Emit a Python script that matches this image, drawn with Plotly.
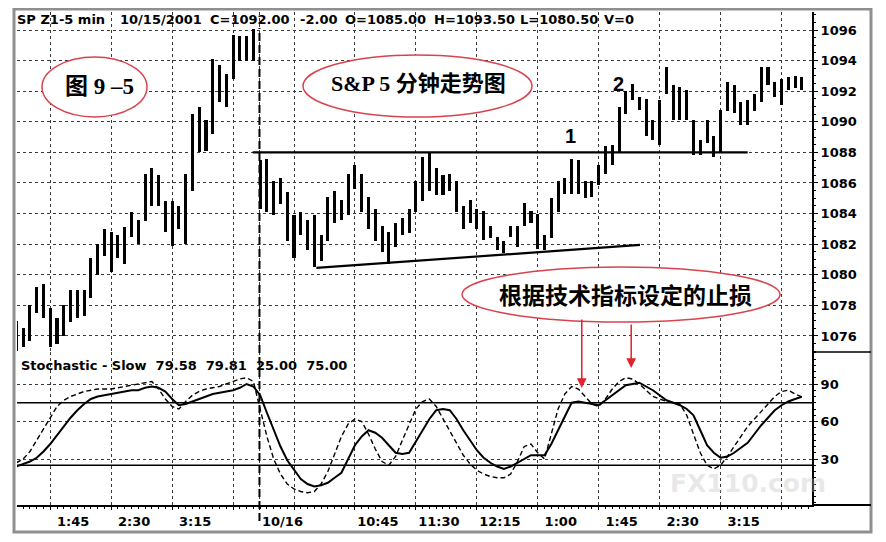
import plotly.graph_objects as go

# ---------------- data ----------------
bar_idx = list(range(117))

highs = [1077.0, 1076.5, 1078.0, 1079.2, 1079.4, 1077.8, 1077.2, 1078.0, 1079.0, 1079.0,
         1079.0, 1081.1, 1082.0, 1083.0, 1082.8, 1082.6, 1083.1, 1084.1, 1083.6, 1086.6,
         1087.0, 1086.5, 1084.8, 1084.8, 1084.5, 1086.6, 1090.5, 1091.0, 1090.1, 1094.1,
         1093.7, 1093.1, 1095.7, 1095.6, 1095.6, 1096.1,
         1087.5, 1087.6, 1086.1, 1086.3, 1085.4, 1083.9, 1084.1, 1083.6, 1083.9, 1082.6,
         1085.1, 1085.5, 1084.9, 1086.6, 1087.2, 1086.6, 1085.1, 1084.3, 1083.2, 1082.8,
         1083.4, 1083.7, 1084.3, 1086.1, 1087.7, 1088.0, 1087.0, 1086.5, 1086.6, 1086.1,
         1084.5, 1084.9, 1084.3, 1084.2, 1083.2, 1082.5, 1082.2, 1083.2, 1083.2, 1084.7,
         1084.2, 1084.0, 1082.6, 1085.0, 1086.1, 1086.3, 1087.6, 1087.5, 1086.1, 1086.1,
         1087.2, 1088.4, 1088.5, 1091.0, 1092.0, 1092.5, 1091.6, 1091.5, 1090.1, 1091.4,
         1093.6, 1092.4, 1092.3, 1092.1, 1090.1, 1088.8, 1090.1, 1089.1, 1090.8, 1092.6,
         1092.4, 1091.3, 1091.4, 1091.8, 1093.6, 1093.6, 1092.6, 1092.8, 1092.9, 1093.0,
         1092.9]

lows = [1075.0, 1075.3, 1075.7, 1077.5, 1077.2, 1075.3, 1075.5, 1076.0, 1076.9, 1077.2,
        1077.3, 1078.5, 1080.0, 1081.2, 1080.2, 1081.1, 1080.7, 1082.5, 1082.0, 1083.5,
        1084.5, 1084.5, 1082.8, 1081.9, 1083.0, 1082.0, 1085.5, 1088.0, 1088.1, 1089.2,
        1091.3, 1091.0, 1092.8, 1094.0, 1094.0, 1094.0,
        1084.3, 1084.1, 1083.9, 1084.6, 1082.2, 1081.1, 1082.6, 1081.6, 1080.5, 1080.9,
        1082.2, 1083.4, 1083.6, 1083.9, 1085.6, 1084.1, 1083.0, 1082.2, 1081.5, 1080.7,
        1081.8, 1082.6, 1082.7, 1084.1, 1084.8, 1085.5, 1085.2, 1085.2, 1085.5, 1084.1,
        1083.0, 1083.4, 1083.0, 1082.3, 1082.4, 1081.6, 1081.4, 1082.5, 1081.8, 1083.2,
        1083.4, 1081.7, 1081.6, 1082.4, 1084.1, 1085.3, 1085.3, 1085.3, 1085.0, 1085.1,
        1085.9, 1086.6, 1087.2, 1088.0, 1090.5, 1091.4, 1090.8, 1089.1, 1088.8, 1088.5,
        1091.8, 1090.1, 1090.1, 1090.1, 1087.8, 1087.8, 1088.6, 1087.7, 1088.0, 1090.7,
        1090.6, 1089.8, 1089.8, 1090.7, 1091.3, 1092.4, 1091.6, 1091.1, 1092.1, 1092.2,
        1092.1]

stoch_k = [27, 30, 36, 45, 55, 64, 72, 77, 80, 82, 84, 85, 86, 86, 86, 87, 88, 89, 90, 91,
           92, 86, 78, 72, 70, 76, 81, 84, 86, 87, 88, 90, 92, 94, 95, 92,
           70, 48, 30, 18, 10, 6, 4, 3, 4, 10, 20, 34, 48, 58, 62, 60, 50, 38, 28, 25,
           32, 45, 58, 70, 76, 78, 72, 62, 52, 42, 33, 26, 21, 18, 16, 15, 15, 18, 28, 40,
           42, 35, 30, 50, 70, 82, 88, 86, 80, 74, 72, 78, 86, 92, 95, 94, 90, 85, 80, 78,
           76, 75, 74, 65, 50, 35, 25, 22, 25, 32, 40, 48, 56, 62, 68, 74, 80, 84, 85, 82,
           79.58]

stoch_d = [24, 26, 28, 31, 36, 42, 49, 56, 63, 69, 74, 78, 80, 81, 82, 83, 84, 85, 85, 87,
           88, 87, 84, 78, 73, 74, 76, 78, 80, 82, 83, 84, 85, 87, 90, 88,
           81, 67, 53, 40, 29, 21, 14, 10, 8, 9, 11, 15, 19, 30, 41, 48, 53, 51, 47, 41,
           35, 34, 35, 44, 53, 62, 69, 70, 69, 62, 53, 45, 37, 31, 27, 24, 22, 24, 27, 30,
           33, 33, 33, 42, 53, 64, 75, 76, 75, 74, 73, 77, 81, 85, 89, 90, 91, 88, 85, 81,
           77, 75, 73, 70, 65, 53, 41, 35, 31, 32, 35, 39, 43, 50, 57, 63, 69, 73, 76, 78,
           79.81]

x_tick_vals = [5, 14, 23, 32, 35.9, 41, 50, 59, 68, 77, 86, 95, 104, 113]
x_tick_text = ["1:45", "2:30", "3:15", "", "10/16", "", "10:45", "11:30", "12:15",
               "1:00", "1:45", "2:30", "3:15", ""]
price_ticks = [1076, 1078, 1080, 1082, 1084, 1086, 1088, 1090, 1092, 1094, 1096]
stoch_ticks = [30, 60, 90]

resist_x = [34.9, 108.0]
resist_y = [1088.0, 1088.0]
support_x = [44.3, 92.1]
support_y = [1080.45, 1081.95]
stoch_levels = [25, 75]
day_sep = 35.9

header_fields = ["SP Z1-5 min", "10/15/2001", "C=1092.00", "-2.00", "O=1085.00",
                 "H=1093.50", "L=1080.50", "V=0"]
stoch_text = "Stochastic - Slow  79.58  79.81  25.00  75.00"

# ---------------- layout geometry (reference pixels; page body adds 8px offset) ----------------
OFF = 8
W, H = 886 - OFF, 542 - OFF
PL, PR, PT, PB = 17, 812, 12, 505
SPLIT = 352
split_frac = (PB - SPLIT) / (PB - PT)


def fx(px):
    return (px - PL) / (PR - PL)


def fy(py):
    return (PB - py) / (PB - PT)


BOLD = dict(family="DejaVu Sans", size=13, color="black", weight="bold")
RED = "#d9434e"

fig = go.Figure()

fig.add_trace(go.Bar(
    x=bar_idx, y=[h - l for h, l in zip(highs, lows)], base=lows,
    width=0.45, marker=dict(color="black", line=dict(width=0)),
    xaxis="x", yaxis="y", hoverinfo="skip", showlegend=False))

fig.add_trace(go.Scatter(x=resist_x, y=resist_y, mode="lines",
                         line=dict(color="black", width=2.2), yaxis="y", showlegend=False))
fig.add_trace(go.Scatter(x=support_x, y=support_y, mode="lines",
                         line=dict(color="black", width=2.2), yaxis="y", showlegend=False))

fig.add_trace(go.Scatter(x=bar_idx, y=stoch_d, mode="lines",
                         line=dict(color="black", width=2), yaxis="y2", showlegend=False))
fig.add_trace(go.Scatter(x=bar_idx, y=stoch_k, mode="lines",
                         line=dict(color="black", width=1.4, dash="5px,3px"),
                         yaxis="y2", showlegend=False))

grid = dict(showgrid=True, gridcolor="#3a3a3a", griddash="dot", gridwidth=1)

fig.update_layout(
    width=W, height=H,
    margin=dict(l=PL - OFF, r=W - (PR - OFF), t=PT - OFF, b=H - (PB - OFF)),
    paper_bgcolor="white", plot_bgcolor="white",
    bargap=0, barmode="overlay",
    xaxis=dict(range=[0.09, 117.5], domain=[0, 1], anchor="y2",
               tickvals=x_tick_vals, ticktext=x_tick_text,
               ticks="outside", ticklen=3, tickcolor="black", tickwidth=1,
               showline=True, linecolor="black", linewidth=2,
               tickfont=BOLD, ticklabelshift=23, ticklabelstandoff=0, zeroline=False,
               minor=dict(dtick=1, tick0=0, ticks="outside", ticklen=2, tickcolor="black",
                          showgrid=False),
               **grid),
    yaxis=dict(domain=[split_frac, 1], range=[1074.95, 1097.18], anchor="x", side="right",
               tickvals=price_ticks, ticks="outside", ticklen=4, tickcolor="black",
               showline=True, linecolor="black", linewidth=2, tickfont=BOLD,
               zeroline=False, ticklabelstandoff=0,
               minor=dict(dtick=0.5, ticks="outside", ticklen=2, tickcolor="black",
                          showgrid=False),
               **grid),
    yaxis2=dict(domain=[0, split_frac], range=[-6.8, 115.6], anchor="x", side="right",
                tickvals=stoch_ticks, ticks="outside", ticklen=4, tickcolor="black",
                showline=True, linecolor="black", linewidth=2, tickfont=BOLD,
                zeroline=False, ticklabelstandoff=0,
                minor=dict(dtick=5, ticks="outside", ticklen=2, tickcolor="black",
                           showgrid=False),
                **grid),
)

shapes = []
for lv in stoch_levels:
    shapes.append(dict(type="line", xref="x domain", yref="y2", x0=0, x1=1, y0=lv, y1=lv,
                       line=dict(color="black", width=1.6)))
shapes.append(dict(type="line", xref="x", yref="paper", x0=day_sep, x1=day_sep,
                   y0=fy(521), y1=fy(28), line=dict(color="black", width=2, dash="8px,4px")))
# ellipses
for (x0, x1, y0, y1) in [(42, 147, 57, 117), (303, 532, 55, 117), (462, 780, 267, 322)]:
    shapes.append(dict(type="circle", xref="paper", yref="paper",
                       x0=fx(x0), x1=fx(x1), y0=fy(y1), y1=fy(y0),
                       fillcolor="white", line=dict(color=RED, width=1.5), layer="above"))
# outer frame and right-side separators
shapes.append(dict(type="rect", xref="paper", yref="paper", x0=fx(14), x1=fx(871),
                   y0=fy(532), y1=fy(9), line=dict(color="#8f8f8f", width=3), layer="above"))
shapes.append(dict(type="line", xref="paper", yref="paper", x0=fx(812), x1=fx(871),
                   y0=fy(SPLIT), y1=fy(SPLIT), line=dict(color="black", width=1.5)))
shapes.append(dict(type="line", xref="paper", yref="paper", x0=fx(812), x1=fx(871),
                   y0=0, y1=0, line=dict(color="black", width=2)))
fig.update_layout(shapes=shapes)

ann = []
for txt, xs in zip(header_fields, [15, 118, 208, 298, 343, 432, 518, 602]):
    ann.append(dict(text=txt, xref="paper", yref="paper", x=fx(xs), y=fy(19),
                    xanchor="left", yanchor="middle", showarrow=False, font=BOLD))
ann.append(dict(text=stoch_text, xref="paper", yref="paper", x=fx(19), y=fy(365),
                xanchor="left", yanchor="middle", showarrow=False, font=BOLD))
serif_cjk = "Liberation Serif, Noto Sans CJK SC"
ann.append(dict(text="图 9 –5", xref="paper", yref="paper", x=fx(99), y=fy(86),
                xanchor="center", yanchor="middle", showarrow=False,
                font=dict(family=serif_cjk, size=23, color="black", weight="bold")))
ann.append(dict(text="S&P 5 分钟走势图", xref="paper", yref="paper", x=fx(418), y=fy(83),
                xanchor="center", yanchor="middle", showarrow=False,
                font=dict(family=serif_cjk, size=22, color="black", weight="bold")))
ann.append(dict(text="根据技术指标设定的止损", xref="paper", yref="paper", x=fx(625), y=fy(294),
                xanchor="center", yanchor="middle", showarrow=False,
                font=dict(family="Noto Sans CJK SC", size=23, color="black", weight="bold")))
ann.append(dict(text="1", xref="x", yref="y", x=81.9, y=1089.1, showarrow=False,
                xanchor="center", yanchor="middle",
                font=dict(family="Liberation Sans", size=20, color="black", weight="bold")))
ann.append(dict(text="2", xref="x", yref="y", x=88.9, y=1092.5, showarrow=False,
                xanchor="center", yanchor="middle",
                font=dict(family="Liberation Sans", size=20, color="black", weight="bold")))
for ax_i, tip, length in [(83.5, 86.8, 70), (90.8, 102.8, 45)]:
    ann.append(dict(text="", xref="x", yref="y2", x=ax_i, y=tip, ax=0, ay=-length,
                    showarrow=True, arrowhead=2, arrowsize=1.3, arrowwidth=1.5,
                    arrowcolor="#e3202c"))
ann.append(dict(text="FX110.com", xref="paper", yref="paper", x=fx(748), y=fy(483),
                xanchor="center", yanchor="middle", showarrow=False,
                font=dict(family="DejaVu Sans", size=25, color="rgba(190,190,190,0.35)",
                          weight="bold")))
fig.update_layout(annotations=ann)

fig.write_html("out.html")
